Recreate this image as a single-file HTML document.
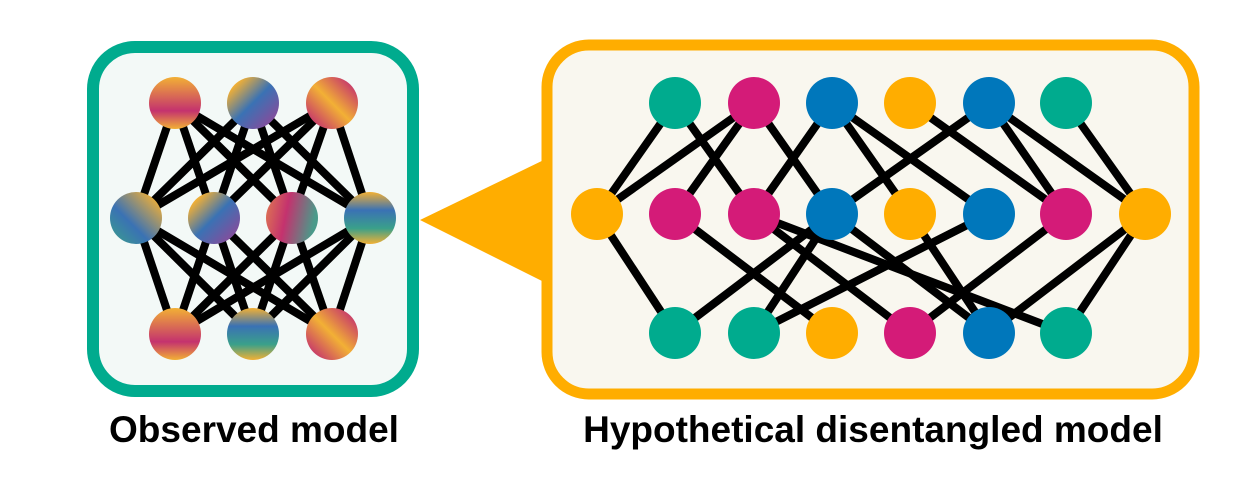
<!DOCTYPE html>
<html><head><meta charset="utf-8"><style>
html,body{margin:0;padding:0;background:#fff;}
svg{display:block}
</style></head><body>
<svg width="1256" height="481" viewBox="0 0 1256 481" xmlns="http://www.w3.org/2000/svg">
<defs>
<linearGradient id="gA" x1="0" y1="0" x2="0" y2="1"><stop offset="0" stop-color="#f2b035"/><stop offset="0.65" stop-color="#c4326e"/><stop offset="1" stop-color="#f2b035"/></linearGradient>
<linearGradient id="gB" x1="0" y1="0" x2="1" y2="1"><stop offset="0.15" stop-color="#f2b035"/><stop offset="0.5" stop-color="#3a72b4"/><stop offset="0.9" stop-color="#8a4a9a"/></linearGradient>
<linearGradient id="gC" x1="0" y1="1" x2="1" y2="0"><stop offset="0.1" stop-color="#c4326e"/><stop offset="0.5" stop-color="#f2b035"/><stop offset="0.9" stop-color="#c4326e"/></linearGradient>
<linearGradient id="gD" x1="1" y1="0" x2="0" y2="1"><stop offset="0.1" stop-color="#f2b035"/><stop offset="0.6" stop-color="#3a72b4"/><stop offset="1" stop-color="#3aa08a"/></linearGradient>
<linearGradient id="gE" x1="0" y1="0" x2="1" y2="0.2"><stop offset="0" stop-color="#e07a50"/><stop offset="0.45" stop-color="#c4326e"/><stop offset="1" stop-color="#4a9a8a"/></linearGradient>
<linearGradient id="gF" x1="0" y1="0" x2="0" y2="1"><stop offset="0" stop-color="#f2b035"/><stop offset="0.35" stop-color="#3a72b4"/><stop offset="0.7" stop-color="#3aa08a"/><stop offset="1" stop-color="#f2b035"/></linearGradient>
</defs>
<rect x="93" y="47" width="320" height="344" rx="42" fill="#f3f9f7" stroke="#00ab8e" stroke-width="12"/>
<g stroke="#000" stroke-width="8">
<line x1="175" y1="103" x2="136" y2="218"/><line x1="175" y1="103" x2="214" y2="218"/><line x1="175" y1="103" x2="292" y2="218"/><line x1="175" y1="103" x2="370" y2="218"/>
<line x1="253" y1="103" x2="136" y2="218"/><line x1="253" y1="103" x2="214" y2="218"/><line x1="253" y1="103" x2="292" y2="218"/><line x1="253" y1="103" x2="370" y2="218"/>
<line x1="332" y1="103" x2="136" y2="218"/><line x1="332" y1="103" x2="214" y2="218"/><line x1="332" y1="103" x2="292" y2="218"/><line x1="332" y1="103" x2="370" y2="218"/>
<line x1="175" y1="334" x2="136" y2="218"/><line x1="175" y1="334" x2="214" y2="218"/><line x1="175" y1="334" x2="292" y2="218"/><line x1="175" y1="334" x2="370" y2="218"/>
<line x1="253" y1="334" x2="136" y2="218"/><line x1="253" y1="334" x2="214" y2="218"/><line x1="253" y1="334" x2="292" y2="218"/><line x1="253" y1="334" x2="370" y2="218"/>
<line x1="332" y1="334" x2="136" y2="218"/><line x1="332" y1="334" x2="214" y2="218"/><line x1="332" y1="334" x2="292" y2="218"/><line x1="332" y1="334" x2="370" y2="218"/>
</g>
<circle cx="175" cy="103" r="26" fill="url(#gA)"/><circle cx="253" cy="103" r="26" fill="url(#gB)"/><circle cx="332" cy="103" r="26" fill="url(#gC)"/>
<circle cx="136" cy="218" r="26" fill="url(#gD)"/><circle cx="214" cy="218" r="26" fill="url(#gB)"/><circle cx="292" cy="218" r="26" fill="url(#gE)"/><circle cx="370" cy="218" r="26" fill="url(#gF)"/>
<circle cx="175" cy="334" r="26" fill="url(#gA)"/><circle cx="253" cy="334" r="26" fill="url(#gF)"/><circle cx="332" cy="334" r="26" fill="url(#gC)"/>
<polygon points="420,220 552,156 552,286" fill="#ffad00"/>
<rect x="547" y="45" width="647" height="349" rx="42" fill="#f9f7ef" stroke="#ffad00" stroke-width="11"/>
<g stroke="#000" stroke-width="8">
<line x1="675" y1="103" x2="597" y2="214"/><line x1="675" y1="103" x2="754" y2="214"/>
<line x1="754" y1="103" x2="597" y2="214"/><line x1="754" y1="103" x2="675" y2="214"/><line x1="754" y1="103" x2="832" y2="214"/>
<line x1="832" y1="103" x2="754" y2="214"/><line x1="832" y1="103" x2="910" y2="214"/><line x1="832" y1="103" x2="989" y2="214"/>
<line x1="910" y1="103" x2="1066" y2="214"/>
<line x1="989" y1="103" x2="832" y2="214"/><line x1="989" y1="103" x2="1066" y2="214"/><line x1="989" y1="103" x2="1145" y2="214"/>
<line x1="1066" y1="103" x2="1145" y2="214"/>
<line x1="597" y1="214" x2="675" y2="333"/>
<line x1="675" y1="214" x2="832" y2="333"/>
<line x1="754" y1="214" x2="910" y2="333"/><line x1="754" y1="214" x2="1066" y2="333"/>
<line x1="832" y1="214" x2="675" y2="333"/><line x1="832" y1="214" x2="754" y2="333"/><line x1="832" y1="214" x2="989" y2="333"/>
<line x1="910" y1="214" x2="989" y2="333"/>
<line x1="989" y1="214" x2="754" y2="333"/>
<line x1="1066" y1="214" x2="910" y2="333"/>
<line x1="1145" y1="214" x2="989" y2="333"/><line x1="1145" y1="214" x2="1066" y2="333"/>
</g>
<g>
<circle cx="675" cy="103" r="26" fill="#00ab8e"/><circle cx="754" cy="103" r="26" fill="#d41b78"/><circle cx="832" cy="103" r="26" fill="#0077bb"/><circle cx="910" cy="103" r="26" fill="#ffad00"/><circle cx="989" cy="103" r="26" fill="#0077bb"/><circle cx="1066" cy="103" r="26" fill="#00ab8e"/>
<circle cx="597" cy="214" r="26" fill="#ffad00"/><circle cx="675" cy="214" r="26" fill="#d41b78"/><circle cx="754" cy="214" r="26" fill="#d41b78"/><circle cx="832" cy="214" r="26" fill="#0077bb"/><circle cx="910" cy="214" r="26" fill="#ffad00"/><circle cx="989" cy="214" r="26" fill="#0077bb"/><circle cx="1066" cy="214" r="26" fill="#d41b78"/><circle cx="1145" cy="214" r="26" fill="#ffad00"/>
<circle cx="675" cy="333" r="26" fill="#00ab8e"/><circle cx="754" cy="333" r="26" fill="#00ab8e"/><circle cx="832" cy="333" r="26" fill="#ffad00"/><circle cx="910" cy="333" r="26" fill="#d41b78"/><circle cx="989" cy="333" r="26" fill="#0077bb"/><circle cx="1066" cy="333" r="26" fill="#00ab8e"/>
</g>
<text x="254" y="442" text-anchor="middle" font-family="Liberation Sans, sans-serif" font-weight="bold" font-size="37" fill="#000">Observed model</text>
<text x="873" y="442" text-anchor="middle" font-family="Liberation Sans, sans-serif" font-weight="bold" font-size="37" fill="#000">Hypothetical disentangled model</text>
</svg>
</body></html>
